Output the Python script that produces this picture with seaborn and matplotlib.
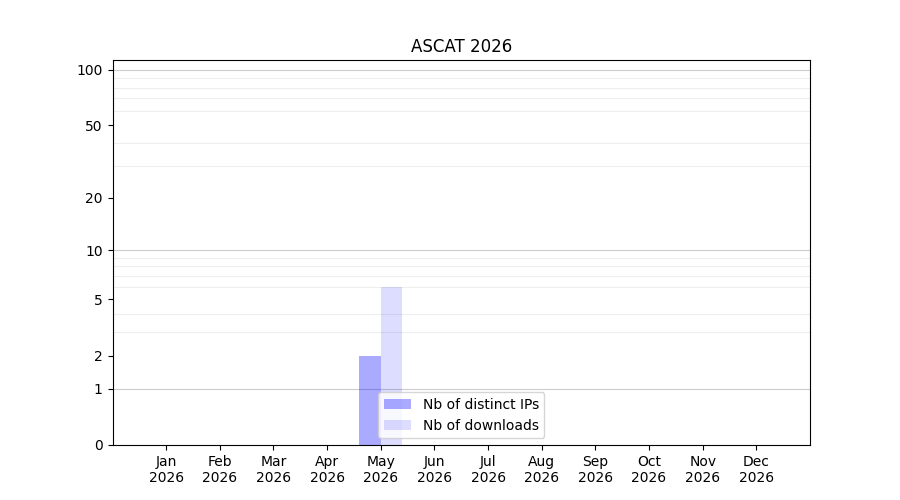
import numpy as np
import pandas as pd
import matplotlib
matplotlib.use("Agg")
import matplotlib.pyplot as plt
import seaborn as sns

months = ["Jan", "Feb", "Mar", "Apr", "May", "Jun", "Jul", "Aug", "Sep", "Oct", "Nov", "Dec"]
year = "2026"
distinct_ips = [0, 0, 0, 0, 2, 0, 0, 0, 0, 0, 0, 0]
downloads = [0, 0, 0, 0, 6, 0, 0, 0, 0, 0, 0, 0]
y_ticks = [0, 1, 2, 5, 10, 20, 50, 100]

df = pd.DataFrame({
    "Month": months * 2,
    "Count": distinct_ips + downloads,
    "Metric": ["Nb of distinct IPs"] * 12 + ["Nb of downloads"] * 12,
})


def fwd(x):
    return np.log10(1 + np.clip(x, 0, None))


def inv(y):
    return 10 ** y - 1


fig, ax = plt.subplots(figsize=(9, 5), dpi=100)
sns.barplot(data=df, x="Month", y="Count", hue="Metric",
            palette=["#0000ff", "#0000ff"], saturation=1, width=0.8, ax=ax)

# translucent blue bars, grid shows through
alphas = [1 / 3, 2 / 15]
for cont, a in zip(ax.containers, alphas):
    for p in cont:
        p.set_alpha(a)

ax.set_yscale("function", functions=(fwd, inv))
ax.set_ylim(0, 113)
ax.set_xlim(-1, 12)

ax.set_yticks(y_ticks)
ax.set_yticklabels([str(t) for t in y_ticks])
minor = list(range(2, 10)) + list(range(20, 100, 10))
ax.set_yticks(minor, minor=True)
ax.tick_params(axis="y", which="minor", length=0)
ax.grid(False)
ax.grid(True, axis="y", which="minor", color="#eeeeee", linewidth=0.8)
for v in [1, 10, 100]:
    ax.axhline(v, color="#cccccc", linewidth=0.8, zorder=0.5)
ax.set_axisbelow(True)

ax.set_xticks(range(12))
ax.set_xticklabels([f"{m}\n{year}" for m in months])
ax.set_xlabel("")
ax.set_ylabel("")
ax.set_title("ASCAT " + year)

handles, labels = ax.get_legend_handles_labels()
leg = ax.legend(handles, labels, loc="lower center")
for h, a in zip(leg.legend_handles, alphas):
    h.set_alpha(a)

fig.savefig("out.png")
